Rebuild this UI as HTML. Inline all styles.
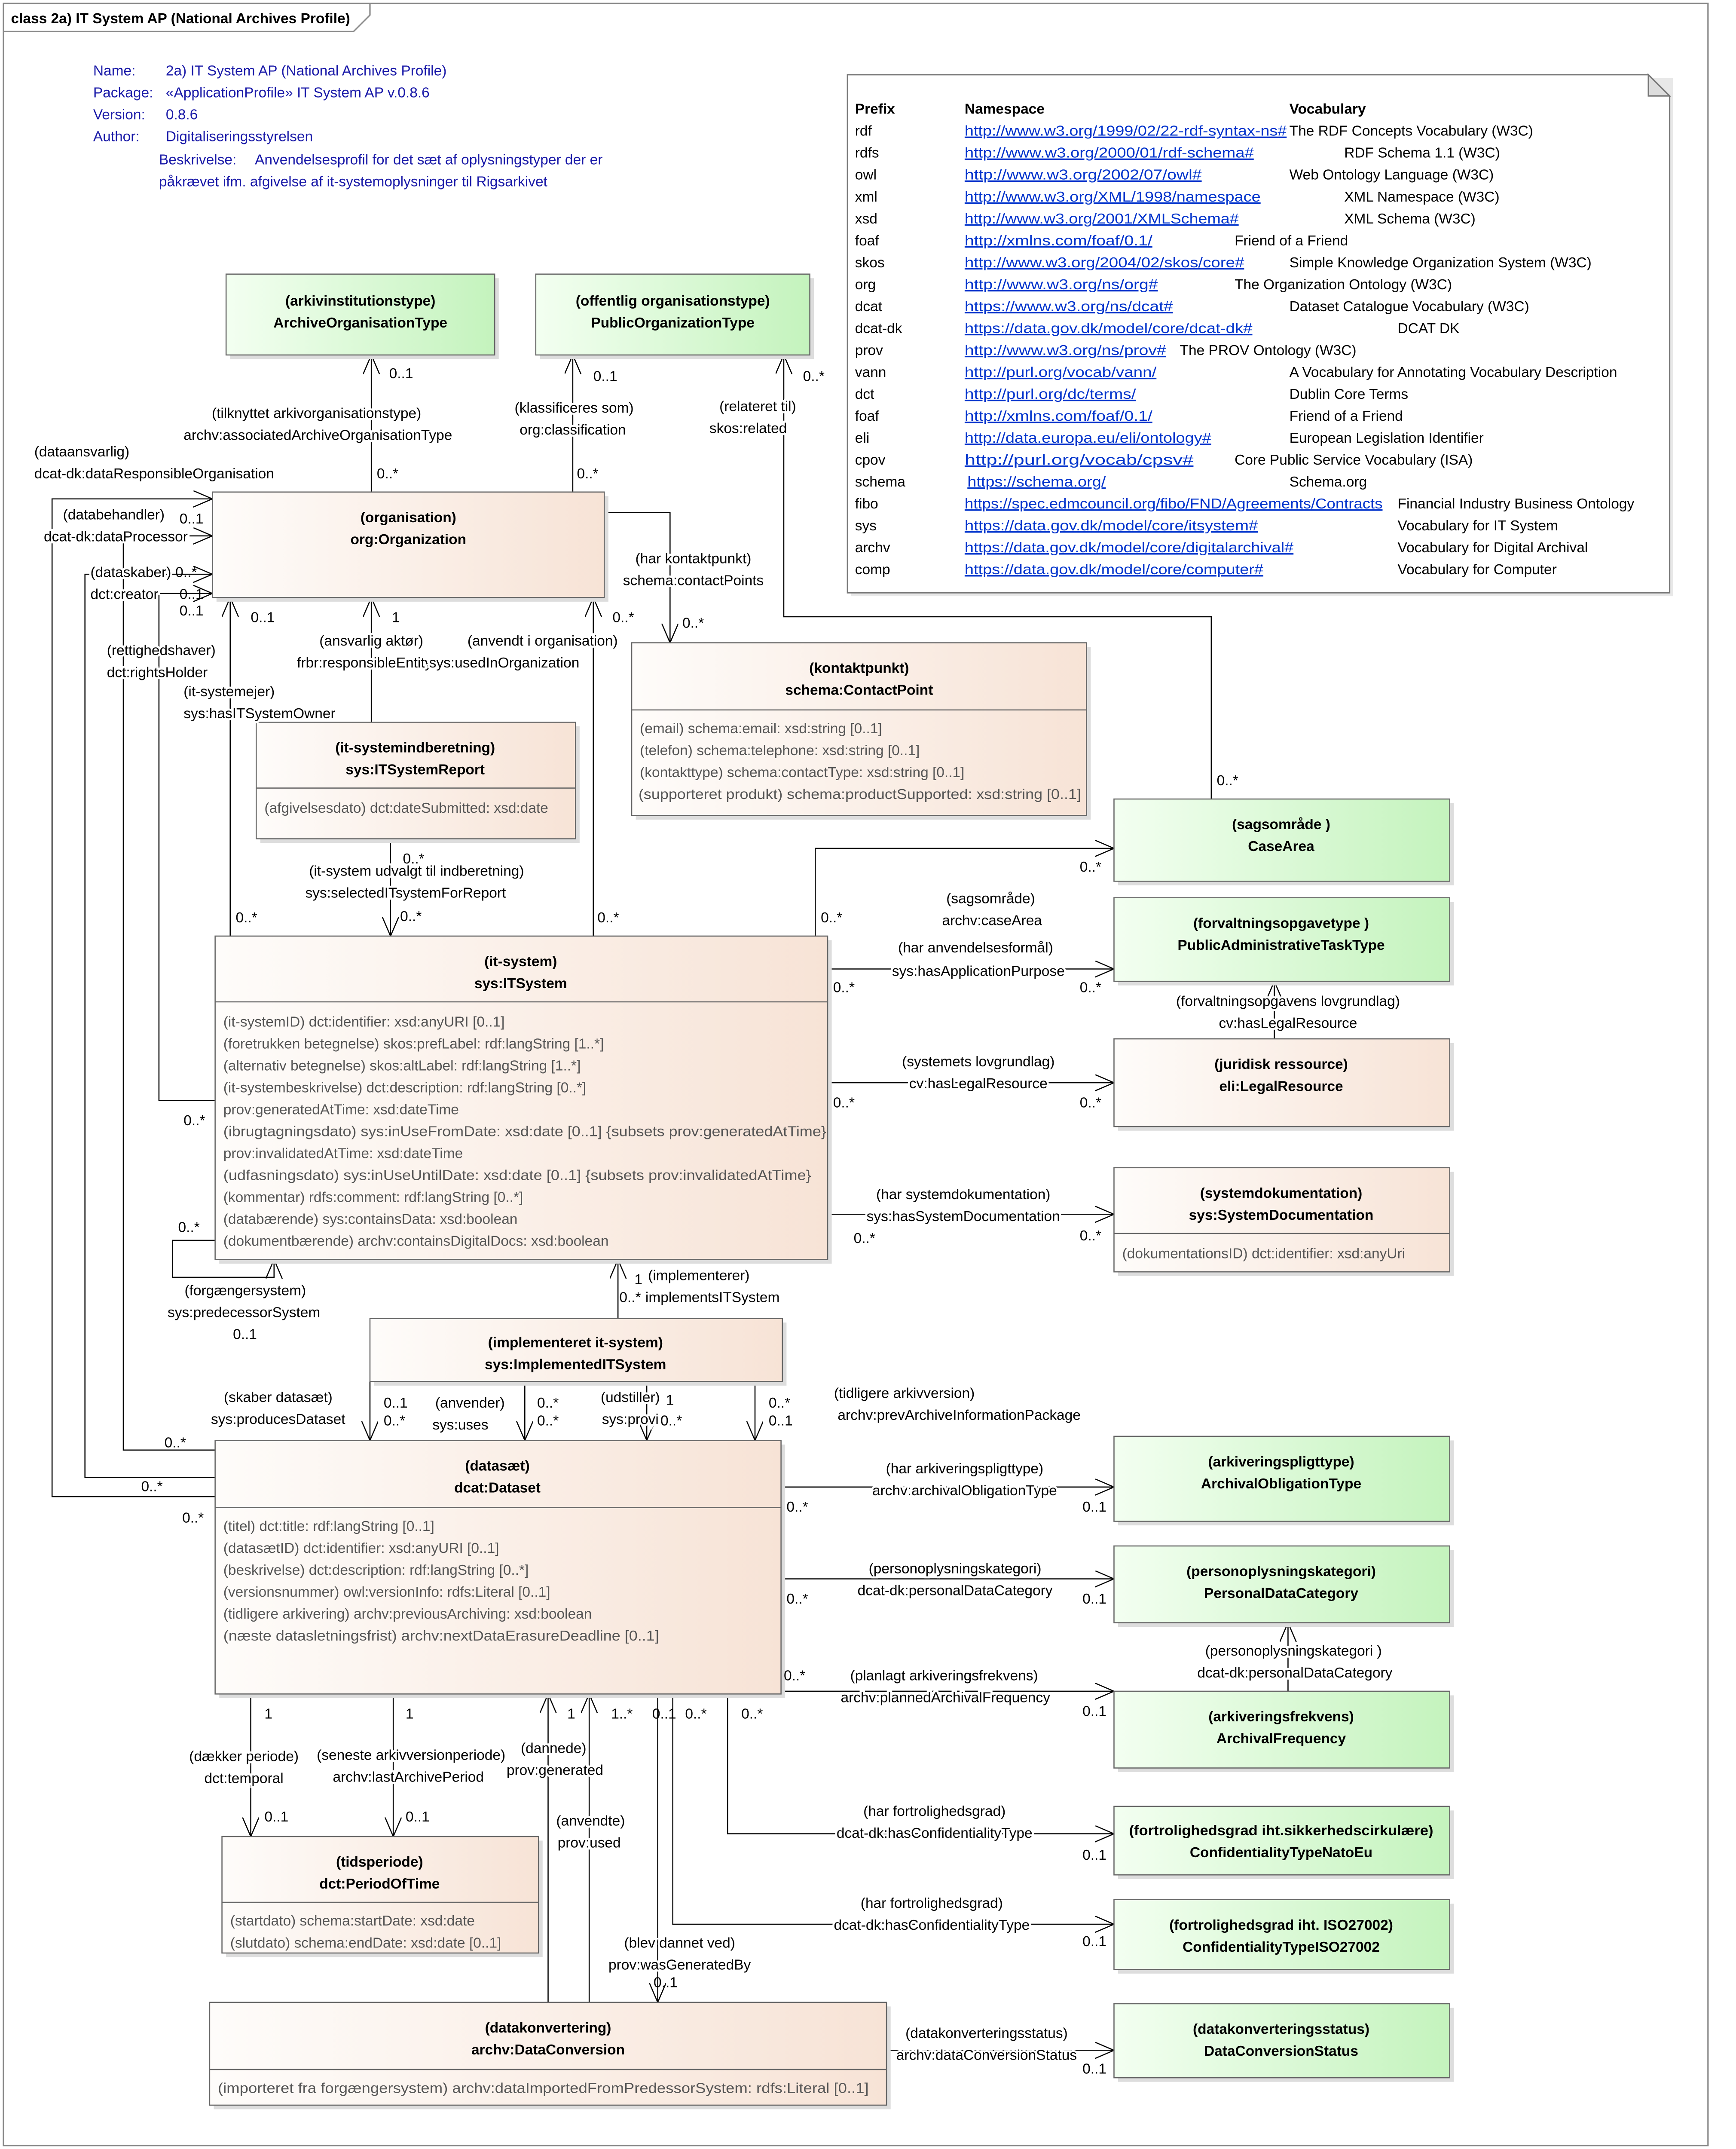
<!DOCTYPE html>
<html><head><meta charset="utf-8"><style>html,body{margin:0;padding:0;background:#fff;width:100%;height:100%;overflow:hidden}svg{display:block;position:fixed;left:0;top:0;width:100vw;height:100vh}</style></head><body>
<svg xmlns="http://www.w3.org/2000/svg" viewBox="0 0 1249 1568" preserveAspectRatio="xMinYMin meet" font-family="Liberation Sans, sans-serif" font-size="10.5">
<defs>
<linearGradient id="pk" x1="0" x2="1" y1="0" y2="0"><stop offset="0" stop-color="#fefcfa"/><stop offset="1" stop-color="#f7e3d6"/></linearGradient>
<linearGradient id="gr" x1="0" x2="1" y1="0" y2="0"><stop offset="0" stop-color="#f3fff1"/><stop offset="1" stop-color="#c4f3bd"/></linearGradient>
<marker id="a" markerUnits="userSpaceOnUse" markerWidth="16" markerHeight="14" refX="14" refY="6" orient="auto"><path d="M0,0 L14,6 L0,12" fill="none" stroke="#000" stroke-width="0.8"/></marker>
</defs>
<rect x="0" y="0" width="1249" height="1568" fill="#fff"/>
<rect x="2.5" y="2.5" width="1244" height="1563" fill="none" stroke="#888" stroke-width="1"/>
<path d="M2.5,23 H258 L270,11 V2.5" fill="none" stroke="#888"/>
<text x="8" y="17" font-weight="bold" font-size="10.5">class 2a) IT System AP (National Archives Profile)</text>

<g fill="#1a1aa8">
<text x="68" y="55">Name:</text><text x="121" y="55">2a) IT System AP (National Archives Profile)</text>
<text x="68" y="71">Package:</text><text x="121" y="71">«ApplicationProfile» IT System AP v.0.8.6</text>
<text x="68" y="87">Version:</text><text x="121" y="87">0.8.6</text>
<text x="68" y="103">Author:</text><text x="121" y="103">Digitaliseringsstyrelsen</text>
<text x="116" y="120">Beskrivelse:</text><text x="186" y="120">Anvendelsesprofil for det sæt af oplysningstyper der er</text>
<text x="116" y="136">påkrævet ifm. afgivelse af it-systemoplysninger til Rigsarkivet</text>
</g>

<rect x="621" y="57" width="600" height="378" fill="#e8e8e8"/>
<path d="M618.5,54.5 H1203 L1218.5,70 V432.5 H618.5 Z" fill="#fff" stroke="#777"/>
<path d="M1203,54.5 V70 H1218.5 Z" fill="#ddd" stroke="#777"/>
<g>
<text x="624" y="83" font-weight="bold">Prefix</text><text x="704" y="83" font-weight="bold">Namespace</text><text x="941" y="83" font-weight="bold">Vocabulary</text>
<g fill="#000">
<text x="624" y="99">rdf</text><text x="624" y="115">rdfs</text><text x="624" y="131">owl</text><text x="624" y="147">xml</text><text x="624" y="163">xsd</text><text x="624" y="179">foaf</text><text x="624" y="195">skos</text><text x="624" y="211">org</text><text x="624" y="227">dcat</text><text x="624" y="243">dcat-dk</text><text x="624" y="259">prov</text><text x="624" y="275">vann</text><text x="624" y="291">dct</text><text x="624" y="307">foaf</text><text x="624" y="323">eli</text><text x="624" y="339">cpov</text><text x="624" y="355">schema</text><text x="624" y="371">fibo</text><text x="624" y="387">sys</text><text x="624" y="403">archv</text><text x="624" y="419">comp</text>
</g>
<g fill="#0033cc" text-decoration="underline">
<text x="704" y="99" textLength="235" lengthAdjust="spacingAndGlyphs">http://www.w3.org/1999/02/22-rdf-syntax-ns#</text>
<text x="704" y="115" textLength="211" lengthAdjust="spacingAndGlyphs">http://www.w3.org/2000/01/rdf-schema#</text>
<text x="704" y="131" textLength="173" lengthAdjust="spacingAndGlyphs">http://www.w3.org/2002/07/owl#</text>
<text x="704" y="147" textLength="216" lengthAdjust="spacingAndGlyphs">http://www.w3.org/XML/1998/namespace</text>
<text x="704" y="163" textLength="200" lengthAdjust="spacingAndGlyphs">http://www.w3.org/2001/XMLSchema#</text>
<text x="704" y="179" textLength="137" lengthAdjust="spacingAndGlyphs">http://xmlns.com/foaf/0.1/</text>
<text x="704" y="195" textLength="204" lengthAdjust="spacingAndGlyphs">http://www.w3.org/2004/02/skos/core#</text>
<text x="704" y="211" textLength="141" lengthAdjust="spacingAndGlyphs">http://www.w3.org/ns/org#</text>
<text x="704" y="227" textLength="152" lengthAdjust="spacingAndGlyphs">https://www.w3.org/ns/dcat#</text>
<text x="704" y="243" textLength="210" lengthAdjust="spacingAndGlyphs">https://data.gov.dk/model/core/dcat-dk#</text>
<text x="704" y="259" textLength="147" lengthAdjust="spacingAndGlyphs">http://www.w3.org/ns/prov#</text>
<text x="704" y="275" textLength="140" lengthAdjust="spacingAndGlyphs">http://purl.org/vocab/vann/</text>
<text x="704" y="291" textLength="125" lengthAdjust="spacingAndGlyphs">http://purl.org/dc/terms/</text>
<text x="704" y="307" textLength="137" lengthAdjust="spacingAndGlyphs">http://xmlns.com/foaf/0.1/</text>
<text x="704" y="323" textLength="180" lengthAdjust="spacingAndGlyphs">http://data.europa.eu/eli/ontology#</text>
<text x="704" y="339" textLength="167" lengthAdjust="spacingAndGlyphs">http://purl.org/vocab/cpsv#</text>
<text x="706" y="355" textLength="101" lengthAdjust="spacingAndGlyphs">https://schema.org/</text>
<text x="704" y="371" textLength="305" lengthAdjust="spacingAndGlyphs">https://spec.edmcouncil.org/fibo/FND/Agreements/Contracts</text>
<text x="704" y="387" textLength="214" lengthAdjust="spacingAndGlyphs">https://data.gov.dk/model/core/itsystem#</text>
<text x="704" y="403" textLength="240" lengthAdjust="spacingAndGlyphs">https://data.gov.dk/model/core/digitalarchival#</text>
<text x="704" y="419" textLength="218" lengthAdjust="spacingAndGlyphs">https://data.gov.dk/model/core/computer#</text>
</g>
<text x="941" y="99">The RDF Concepts Vocabulary  (W3C)</text>
<text x="981" y="115">RDF Schema 1.1  (W3C)</text>
<text x="941" y="131">Web Ontology Language  (W3C)</text>
<text x="981" y="147">XML Namespace  (W3C)</text>
<text x="981" y="163">XML Schema  (W3C)</text>
<text x="901" y="179">Friend of a Friend</text>
<text x="941" y="195">Simple Knowledge Organization System (W3C)</text>
<text x="901" y="211">The Organization Ontology (W3C)</text>
<text x="941" y="227">Dataset Catalogue Vocabulary  (W3C)</text>
<text x="1020" y="243">DCAT DK</text>
<text x="861" y="259">The PROV Ontology (W3C)</text>
<text x="941" y="275">A Vocabulary for Annotating Vocabulary Description</text>
<text x="941" y="291">Dublin Core Terms</text>
<text x="941" y="307">Friend of a Friend</text>
<text x="941" y="323">European Legislation Identifier</text>
<text x="901" y="339">Core Public Service Vocabulary (ISA)</text>
<text x="941" y="355">Schema.org</text>
<text x="1020" y="371">Financial Industry Business Ontology</text>
<text x="1020" y="387">Vocabulary for IT System</text>
<text x="1020" y="403">Vocabulary for Digital Archival</text>
<text x="1020" y="419">Vocabulary for Computer</text>
</g>

<g fill="none" stroke="#000" stroke-width="0.8">
<path d="M271,359 V259" marker-end="url(#a)"/>
<path d="M418,359 V259" marker-end="url(#a)"/>
<path d="M884,583 V450 H572 V259" marker-end="url(#a)"/>
<path d="M441,374 H489 V469" marker-end="url(#a)"/>
<path d="M157,1092 H38 V364 H155" marker-end="url(#a)"/>
<path d="M157,1058 H90 V391 H155" marker-end="url(#a)"/>
<path d="M157,1078 H62 V419 H155" marker-end="url(#a)"/>
<path d="M157,803 H116 V433 H155" marker-end="url(#a)"/>
<path d="M168,683 V436" marker-end="url(#a)"/>
<path d="M271,527 V436" marker-end="url(#a)"/>
<path d="M433,683 V436" marker-end="url(#a)"/>
<path d="M285,612 V683" marker-end="url(#a)"/>
<path d="M595,683 V619 H813" marker-end="url(#a)"/>
<path d="M604,707 H813" marker-end="url(#a)"/>
<path d="M930,758 V716" marker-end="url(#a)"/>
<path d="M604,790 H813" marker-end="url(#a)"/>
<path d="M604,886 H813" marker-end="url(#a)"/>
<path d="M157,905 H126 V932 H200 V919" marker-end="url(#a)"/>
<path d="M451,962 V919" marker-end="url(#a)"/>
<path d="M270,1008 V1051" marker-end="url(#a)"/>
<path d="M383,1008 V1051" marker-end="url(#a)"/>
<path d="M472,1008 V1051" marker-end="url(#a)"/>
<path d="M551,1008 V1051" marker-end="url(#a)"/>
<path d="M570,1085 H813" marker-end="url(#a)"/>
<path d="M570,1152 H813" marker-end="url(#a)"/>
<path d="M940,1234 V1184" marker-end="url(#a)"/>
<path d="M570,1234 H813" marker-end="url(#a)"/>
<path d="M531,1236 V1338 H813" marker-end="url(#a)"/>
<path d="M491,1236 V1404 H813" marker-end="url(#a)"/>
<path d="M647,1496 H813" marker-end="url(#a)"/>
<path d="M183,1236 V1340" marker-end="url(#a)"/>
<path d="M287,1236 V1340" marker-end="url(#a)"/>
<path d="M400,1461 V1236" marker-end="url(#a)"/>
<path d="M430,1461 V1236" marker-end="url(#a)"/>
<path d="M480,1236 V1461" marker-end="url(#a)"/>
</g>

<g stroke="#666" stroke-width="0.8">
<g fill="#ddd" stroke="none">
<rect x="168" y="203" width="196" height="59"/><rect x="394" y="203" width="200" height="59"/>
<rect x="158" y="362" width="286" height="77"/><rect x="464" y="472" width="332" height="126"/>
<rect x="190" y="530" width="233" height="85"/><rect x="816" y="586" width="245" height="60"/>
<rect x="816" y="658" width="245" height="61"/><rect x="816" y="761" width="245" height="64"/>
<rect x="816" y="855" width="245" height="76"/><rect x="160" y="686" width="447" height="236"/>
<rect x="273" y="965" width="301" height="46"/><rect x="160" y="1054" width="413" height="185"/>
<rect x="816" y="1051" width="245" height="62"/><rect x="816" y="1131" width="245" height="56"/>
<rect x="816" y="1237" width="245" height="56"/><rect x="816" y="1321" width="245" height="50"/>
<rect x="816" y="1389" width="245" height="51"/><rect x="816" y="1465" width="245" height="54"/>
<rect x="165" y="1343" width="231" height="85"/><rect x="156" y="1464" width="494" height="75"/>
</g>
<rect x="165" y="200" width="196" height="59" fill="url(#gr)"/>
<rect x="391" y="200" width="200" height="59" fill="url(#gr)"/>
<rect x="155" y="359" width="286" height="77" fill="url(#pk)"/>
<rect x="461" y="469" width="332" height="126" fill="url(#pk)"/><path d="M461,518 H793"/>
<rect x="187" y="527" width="233" height="85" fill="url(#pk)"/><path d="M187,575 H420"/>
<rect x="813" y="583" width="245" height="60" fill="url(#gr)"/>
<rect x="813" y="655" width="245" height="61" fill="url(#gr)"/>
<rect x="813" y="758" width="245" height="64" fill="url(#pk)"/>
<rect x="813" y="852" width="245" height="76" fill="url(#pk)"/><path d="M813,900 H1058"/>
<rect x="157" y="683" width="447" height="236" fill="url(#pk)"/><path d="M157,731 H604"/>
<rect x="270" y="962" width="301" height="46" fill="url(#pk)"/>
<rect x="157" y="1051" width="413" height="185" fill="url(#pk)"/><path d="M157,1100 H570"/>
<rect x="813" y="1048" width="245" height="62" fill="url(#gr)"/>
<rect x="813" y="1128" width="245" height="56" fill="url(#gr)"/>
<rect x="813" y="1234" width="245" height="56" fill="url(#gr)"/>
<rect x="813" y="1318" width="245" height="50" fill="url(#gr)"/>
<rect x="813" y="1386" width="245" height="51" fill="url(#gr)"/>
<rect x="813" y="1462" width="245" height="54" fill="url(#gr)"/>
<rect x="162" y="1340" width="231" height="85" fill="url(#pk)"/><path d="M162,1388 H393"/>
<rect x="153" y="1461" width="494" height="75" fill="url(#pk)"/><path d="M153,1510 H647"/>
</g>

<g font-weight="bold" text-anchor="middle">
<text x="263" y="223">(arkivinstitutionstype)</text><text x="263" y="239">ArchiveOrganisationType</text>
<text x="491" y="223">(offentlig organisationstype)</text><text x="491" y="239">PublicOrganizationType</text>
<text x="298" y="381">(organisation)</text><text x="298" y="397">org:Organization</text>
<text x="627" y="491">(kontaktpunkt)</text><text x="627" y="507">schema:ContactPoint</text>
<text x="303" y="549">(it-systemindberetning)</text><text x="303" y="565">sys:ITSystemReport</text>
<text x="935" y="605">(sagsområde )</text><text x="935" y="621">CaseArea</text>
<text x="935" y="677">(forvaltningsopgavetype )</text><text x="935" y="693">PublicAdministrativeTaskType</text>
<text x="935" y="780">(juridisk ressource)</text><text x="935" y="796">eli:LegalResource</text>
<text x="935" y="874">(systemdokumentation)</text><text x="935" y="890">sys:SystemDocumentation</text>
<text x="380" y="705">(it-system)</text><text x="380" y="721">sys:ITSystem</text>
<text x="420" y="983">(implementeret it-system)</text><text x="420" y="999">sys:ImplementedITSystem</text>
<text x="363" y="1073">(datasæt)</text><text x="363" y="1089">dcat:Dataset</text>
<text x="935" y="1070">(arkiveringspligttype)</text><text x="935" y="1086">ArchivalObligationType</text>
<text x="935" y="1150">(personoplysningskategori)</text><text x="935" y="1166">PersonalDataCategory</text>
<text x="935" y="1256">(arkiveringsfrekvens)</text><text x="935" y="1272">ArchivalFrequency</text>
<text x="935" y="1339" textLength="222" lengthAdjust="spacingAndGlyphs">(fortrolighedsgrad iht.sikkerhedscirkulære)</text><text x="935" y="1355">ConfidentialityTypeNatoEu</text>
<text x="935" y="1408">(fortrolighedsgrad iht. ISO27002)</text><text x="935" y="1424">ConfidentialityTypeISO27002</text>
<text x="935" y="1484">(datakonverteringsstatus)</text><text x="935" y="1500">DataConversionStatus</text>
<text x="277" y="1362">(tidsperiode)</text><text x="277" y="1378">dct:PeriodOfTime</text>
<text x="400" y="1483">(datakonvertering)</text><text x="400" y="1499">archv:DataConversion</text>
</g>

<g fill="#555">
<text x="467" y="535">(email) schema:email: xsd:string [0..1]</text>
<text x="467" y="551">(telefon) schema:telephone: xsd:string [0..1]</text>
<text x="467" y="567">(kontakttype) schema:contactType: xsd:string [0..1]</text>
<text x="466" y="583" textLength="323" lengthAdjust="spacingAndGlyphs">(supporteret produkt) schema:productSupported: xsd:string [0..1]</text>
<text x="193" y="593">(afgivelsesdato) dct:dateSubmitted: xsd:date</text>
<text x="819" y="918">(dokumentationsID) dct:identifier: xsd:anyUri</text>
<text x="163" y="749">(it-systemID) dct:identifier: xsd:anyURI [0..1]</text>
<text x="163" y="765">(foretrukken betegnelse) skos:prefLabel: rdf:langString [1..*]</text>
<text x="163" y="781">(alternativ betegnelse) skos:altLabel: rdf:langString [1..*]</text>
<text x="163" y="797">(it-systembeskrivelse) dct:description: rdf:langString [0..*]</text>
<text x="163" y="813">prov:generatedAtTime: xsd:dateTime</text>
<text x="163" y="829" textLength="440" lengthAdjust="spacingAndGlyphs">(ibrugtagningsdato) sys:inUseFromDate: xsd:date [0..1] {subsets prov:generatedAtTime}</text>
<text x="163" y="845">prov:invalidatedAtTime: xsd:dateTime</text>
<text x="163" y="861" textLength="429" lengthAdjust="spacingAndGlyphs">(udfasningsdato) sys:inUseUntilDate: xsd:date [0..1] {subsets prov:invalidatedAtTime}</text>
<text x="163" y="877">(kommentar) rdfs:comment: rdf:langString [0..*]</text>
<text x="163" y="893">(databærende) sys:containsData: xsd:boolean</text>
<text x="163" y="909">(dokumentbærende) archv:containsDigitalDocs: xsd:boolean</text>
<text x="163" y="1117">(titel) dct:title: rdf:langString [0..1]</text>
<text x="163" y="1133">(datasætID) dct:identifier: xsd:anyURI [0..1]</text>
<text x="163" y="1149">(beskrivelse) dct:description: rdf:langString [0..*]</text>
<text x="163" y="1165">(versionsnummer) owl:versionInfo: rdfs:Literal [0..1]</text>
<text x="163" y="1181">(tidligere arkivering) archv:previousArchiving: xsd:boolean</text>
<text x="163" y="1197" textLength="318" lengthAdjust="spacingAndGlyphs">(næste datasletningsfrist) archv:nextDataErasureDeadline [0..1]</text>
<text x="168" y="1405">(startdato) schema:startDate: xsd:date</text>
<text x="168" y="1421">(slutdato) schema:endDate: xsd:date [0..1]</text>
<text x="159" y="1527" textLength="475" lengthAdjust="spacingAndGlyphs">(importeret fra forgængersystem) archv:dataImportedFromPredessorSystem: rdfs:Literal [0..1]</text>
</g>

<g fill="#000">
<g text-anchor="middle" stroke="#fff" stroke-width="3" paint-order="stroke">
<text x="231" y="305">(tilknyttet arkivorganisationstype)</text><text x="232" y="321">archv:associatedArchiveOrganisationType</text>
<text x="419" y="301">(klassificeres som)</text><text x="418" y="317">org:classification</text>
<text x="553" y="300">(relateret til)</text><text x="546" y="316">skos:related</text>
<text x="506" y="411">(har kontaktpunkt)</text><text x="506" y="427">schema:contactPoints</text>
<text x="271" y="471">(ansvarlig aktør)</text><text x="266" y="487">frbr:responsibleEntity</text>
<text x="396" y="471">(anvendt i organisation)</text><text x="368" y="487">sys:usedInOrganization</text>
<text x="304" y="639">(it-system udvalgt til indberetning)</text><text x="296" y="655">sys:selectedITsystemForReport</text>
<text x="723" y="659">(sagsområde)</text><text x="724" y="675">archv:caseArea</text>
<text x="712" y="695">(har anvendelsesformål)</text><text x="714" y="712">sys:hasApplicationPurpose</text>
<text x="940" y="734">(forvaltningsopgavens lovgrundlag)</text><text x="940" y="750">cv:hasLegalResource</text>
<text x="714" y="778">(systemets lovgrundlag)</text><text x="714" y="794">cv:hasLegalResource</text>
<text x="703" y="875">(har systemdokumentation)</text><text x="703" y="891">sys:hasSystemDocumentation</text>
<text x="179" y="945">(forgængersystem)</text><text x="178" y="961">sys:predecessorSystem</text>
<text x="510" y="934">(implementerer)</text><text x="520" y="950">implementsITSystem</text>
<text x="203" y="1023">(skaber datasæt)</text><text x="203" y="1039">sys:producesDataset</text>
<text x="343" y="1027">(anvender)</text><text x="336" y="1043">sys:uses</text>
<text x="460" y="1023">(udstiller)</text><text x="460" y="1039">sys:provi</text>
<text x="660" y="1020">(tidligere arkivversion)</text><text x="700" y="1036">archv:prevArchiveInformationPackage</text>
<text x="704" y="1075">(har arkiveringspligttype)</text><text x="704" y="1091">archv:archivalObligationType</text>
<text x="697" y="1148">(personoplysningskategori)</text><text x="697" y="1164">dcat-dk:personalDataCategory</text>
<text x="944" y="1208">(personoplysningskategori )</text><text x="945" y="1224">dcat-dk:personalDataCategory</text>
<text x="689" y="1226">(planlagt arkiveringsfrekvens)</text><text x="690" y="1242">archv:plannedArchivalFrequency</text>
<text x="682" y="1325">(har fortrolighedsgrad)</text><text x="682" y="1341">dcat-dk:hasConfidentialityType</text>
<text x="680" y="1392">(har fortrolighedsgrad)</text><text x="680" y="1408">dcat-dk:hasConfidentialityType</text>
<text x="720" y="1487">(datakonverteringsstatus)</text><text x="720" y="1503">archv:dataConversionStatus</text>
<text x="178" y="1285">(dækker periode)</text><text x="178" y="1301">dct:temporal</text>
<text x="300" y="1284">(seneste arkivversionperiode)</text><text x="298" y="1300">archv:lastArchivePeriod</text>
<text x="404" y="1279">(dannede)</text><text x="405" y="1295">prov:generated</text>
<text x="431" y="1332">(anvendte)</text><text x="430" y="1348">prov:used</text>
<text x="496" y="1421">(blev dannet ved)</text><text x="496" y="1437">prov:wasGeneratedBy</text>
</g>
<g stroke="#fff" stroke-width="3" paint-order="stroke">
<text x="25" y="333">(dataansvarlig)</text><text x="25" y="349">dcat-dk:dataResponsibleOrganisation</text>
<text x="46" y="379">(databehandler)</text><text x="32" y="395">dcat-dk:dataProcessor</text>
<text x="66" y="421">(dataskaber)</text><text x="66" y="437">dct:creator</text>
<text x="78" y="478">(rettighedshaver)</text><text x="78" y="494">dct:rightsHolder</text>
<text x="134" y="508">(it-systemejer)</text><text x="134" y="524">sys:hasITSystemOwner</text>
</g>
<text x="284" y="276">0..1</text><text x="275" y="349">0..*</text>
<text x="433" y="278">0..1</text><text x="421" y="349">0..*</text>
<text x="586" y="278">0..*</text><text x="888" y="573">0..*</text>
<text x="498" y="458">0..*</text>
<text x="131" y="382">0..1</text><text x="128" y="421">0..*</text><text x="131" y="437">0..1</text><text x="131" y="449">0..1</text>
<text x="183" y="454">0..1</text><text x="286" y="454">1</text><text x="447" y="454">0..*</text>
<text x="172" y="673">0..*</text><text x="436" y="673">0..*</text>
<text x="294" y="630">0..*</text><text x="292" y="672">0..*</text>
<text x="599" y="673">0..*</text><text x="788" y="636">0..*</text>
<text x="608" y="724">0..*</text><text x="788" y="724">0..*</text>
<text x="608" y="808">0..*</text><text x="788" y="808">0..*</text>
<text x="623" y="907">0..*</text><text x="788" y="905">0..*</text>
<text x="134" y="821">0..*</text><text x="130" y="899">0..*</text><text x="170" y="977">0..1</text>
<text x="463" y="937">1</text><text x="452" y="950">0..*</text>
<text x="280" y="1027">0..1</text><text x="280" y="1040">0..*</text>
<text x="392" y="1027">0..*</text><text x="392" y="1040">0..*</text>
<text x="486" y="1025">1</text><text x="482" y="1040">0..*</text>
<text x="561" y="1027">0..*</text><text x="561" y="1040">0..1</text>
<text x="120" y="1056">0..*</text><text x="103" y="1088">0..*</text><text x="133" y="1111">0..*</text>
<text x="574" y="1103">0..*</text><text x="790" y="1103">0..1</text>
<text x="574" y="1170">0..*</text><text x="790" y="1170">0..1</text>
<text x="572" y="1226">0..*</text><text x="790" y="1252">0..1</text>
<text x="541" y="1254">0..*</text><text x="476" y="1254">0..1</text><text x="500" y="1254">0..*</text>
<text x="790" y="1357">0..1</text><text x="790" y="1420">0..1</text><text x="790" y="1513">0..1</text>
<text x="193" y="1254">1</text><text x="296" y="1254">1</text><text x="414" y="1254">1</text><text x="446" y="1254">1..*</text>
<text x="193" y="1329">0..1</text><text x="296" y="1329">0..1</text><text x="477" y="1450">0..1</text>
</g>
</svg>
</body></html>
